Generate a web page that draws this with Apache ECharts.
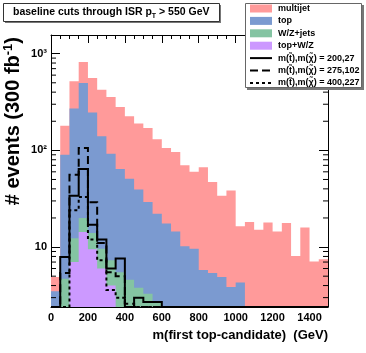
<!DOCTYPE html>
<html><head><meta charset="utf-8">
<script src="https://cdn.jsdelivr.net/npm/echarts@6/dist/echarts.min.js"></script>
<style>html,body{margin:0;padding:0;background:#fff}#c{width:366px;height:353px}</style>
</head><body><div id="c"></div>
<script>
// ---- data (events per 50 GeV bin) ----
const binEdges = [0,50,100,150,200,250,300,350,400,450,500,550,600,650,700,750,800,850,900,950,1000,1050,1100,1150,1200,1250,1300,1350,1400,1450,1500];
const multijet = [1.4,90,247,321,313,285,264,217,174,150,141,108,88.5,81.5,60,50.5,61,41.6,29,34.6,12.1,18.2,15.1,17.9,14.5,17.7,8.1,15.9,7.1,7.5];
const topBkg   = [3.5,85.3,258,477,233,130,84.7,58.5,46.4,35.7,25.9,19.4,16,13.5,9.7,9.1,5.4,5.0,4.5,3.4,3.9,0,0,0,0,0,0,0,0,0];
const wzJets   = [0,4.7,5.3,5.7,4.5,3.6,3.3,5.5,4.6,3.8,3.3,2.7,1.5,1.0,0.5,0.5,0.4,0.4,0.4,0.46,0.4,0,0,0,0,0,0,0,0,0];
const topWZ    = [0,0,7.0,14.3,9.5,6.0,4.0,0,0,0,0,0,0,0,0,0,0,0,0,0,0,0,0,0,0,0,0,0,0,0];
const sig200_27  = [0,7.9,34,64,17,12,6,7.6,0,3.0,2.7,2.7,0,0,0,0,0,0,0,0,0,0,0,0,0,0,0,0,0,0];
const sig275_102 = [0,5.4,56,106,29,11,5.5,5.0,2.6,0,0,0,0,0,0,0,0,0,0,0,0,0,0,0,0,0,0,0,0,0];
const sig400_227 = [0,0,24,33,12,7.3,3.6,3.0,0,0,0,0,0,0,0,0,0,0,0,0,0,0,0,0,0,0,0,0,0,0];
const xTicks = [0,200,400,600,800,1000,1200,1400];
const yMin = 2.4, yMax = 1560;

const FONT = 'Liberation Sans';
const colors = {multijet:'#ff9a9a', top:'#7b9ad0', wz:'#84c4a2', twz:'#cc99ff'};

// stacked layers (bottom -> top): topWZ, wzJets, topBkg, multijet
const layers = [topWZ, wzJets, topBkg, multijet];
function cumulative(upto){
  return binEdges.slice(0,-1).map((_,i)=>{let s=0;for(let k=0;k<=upto;k++)s+=layers[k][i];return s;});
}
const cumTWZ = cumulative(0), cumWZ = cumulative(1), cumTop = cumulative(2), cumAll = cumulative(3);
const clampY = v => Math.min(Math.max(v, yMin), yMax);

function stepPoints(api, vals){
  const pts = [api.coord([binEdges[0], yMin])];
  vals.forEach((v,i)=>{
    const y = clampY(v);
    pts.push(api.coord([binEdges[i], y]));
    pts.push(api.coord([binEdges[i+1], y]));
  });
  pts.push(api.coord([binEdges[binEdges.length-1], yMin]));
  return pts;
}
function histSeries(name, cum, color){
  return {
    type:'custom', name, coordinateSystem:'cartesian2d', silent:true, clip:true,
    data:[[0, yMin]],
    renderItem(params, api){
      return {type:'polygon', shape:{points:stepPoints(api, cum)}, style:{fill:color, stroke:null}};
    }
  };
}
function stepSeries(name, vals, dash){
  return {
    type:'custom', name, coordinateSystem:'cartesian2d', silent:true, clip:true, z:5,
    data:[[0, yMin]],
    renderItem(params, api){
      return {type:'polyline', shape:{points:stepPoints(api, vals)}, style:{stroke:'#000', lineWidth:2, fill:null, lineDash:dash}};
    }
  };
}
const minorTickSeries = {
  type:'custom', silent:true, clip:false, z:6, coordinateSystem:'cartesian2d',
  data:[[0, 10]],
  renderItem(params, api){
    const ch = [];
    for (let e=0;e<=3;e++) for (let k=2;k<=9;k++){
      const v = k*Math.pow(10,e);
      if (v<=yMin || v>=yMax) continue;
      const l = api.coord([0, v]), r = api.coord([1500, v]);
      ch.push({type:'line', shape:{x1:l[0], y1:l[1], x2:l[0]+5, y2:l[1]}, style:{stroke:'#000', lineWidth:1}});
      ch.push({type:'line', shape:{x1:r[0], y1:r[1], x2:r[0]-5, y2:r[1]}, style:{stroke:'#000', lineWidth:1}});
    }
    return {type:'group', children:ch};
  }
};

const axisCommonX = {
  type:'value', min:0, max:1500, interval:200,
  axisLine:{show:true, onZero:false, lineStyle:{color:'#000', width:1}},
  axisTick:{show:true, inside:true, length:8, lineStyle:{color:'#000'}},
  minorTick:{show:true, splitNumber:4, length:4, lineStyle:{color:'#000'}},
  splitLine:{show:false}, minorSplitLine:{show:false}
};
const axisCommonY = {
  type:'log', logBase:10, min:yMin, max:yMax,
  axisLine:{show:true, onZero:false, lineStyle:{color:'#000', width:1}},
  axisTick:{show:true, inside:true, length:9, lineStyle:{color:'#000'}},
  splitLine:{show:false}
};

const legendItems = [
  {label:'multijet', color:colors.multijet},
  {label:'top', color:colors.top},
  {label:'W/Z+jets', color:colors.wz},
  {label:'top+W/Z', color:colors.twz},
  {label:'m(t\u0303),m(\u03c7\u0303) = 200,27', dash:null},
  {label:'m(t\u0303),m(\u03c7\u0303) = 275,102', dash:[8,4]},
  {label:'m(t\u0303),m(\u03c7\u0303) = 400,227', dash:[3,3]}
];
const legendGraphics = [
  {type:'rect', shape:{x:247, y:5, width:117, height:85}, style:{fill:'#777'}, z:10},
  {type:'rect', shape:{x:245.5, y:3.5, width:116, height:84}, style:{fill:'#fff', stroke:'#666', lineWidth:1}, z:11}
];
legendItems.forEach((it, i)=>{
  const cy = 8.5 + i*12.4;
  if (it.color) {
    legendGraphics.push({type:'rect', shape:{x:250, y:cy-4, width:22, height:8}, style:{fill:it.color}, z:12});
  } else {
    legendGraphics.push({type:'line', shape:{x1:250, y1:cy, x2:272, y2:cy}, style:{stroke:'#000', lineWidth:2, lineDash:it.dash}, z:12});
  }
  legendGraphics.push({type:'text', x:278, y:cy, style:{text:it.label, fill:'#000', font:'bold 9px "Liberation Sans"', verticalAlign:'middle'}, z:12});
});

const option = {
  animation:false,
  backgroundColor:'#fff',
  grid:{left:51, right:38, top:35, bottom:46, containLabel:false},
  xAxis:[
    Object.assign({}, axisCommonX, {position:'bottom',
      axisLabel:{color:'#000', fontFamily:FONT, fontWeight:'bold', fontSize:11, margin:5, showMaxLabel:false,
        formatter:v=> xTicks.indexOf(v)>=0 ? String(v) : ''}}),
    Object.assign({}, axisCommonX, {position:'top', axisLabel:{show:false}})
  ],
  yAxis:[
    Object.assign({}, axisCommonY, {position:'left',
      axisLabel:{color:'#000', fontFamily:FONT, fontWeight:'bold', fontSize:11, margin:4, showMinLabel:false, showMaxLabel:false,
        formatter:v=>{const l=Math.log10(v), e=Math.round(l); if(Math.abs(l-e)>1e-6) return ''; return e===1?'10':(e===2?'10\u00b2':(e===3?'10\u00b3':'10'));}}}),
    Object.assign({}, axisCommonY, {position:'right', axisLabel:{show:false}})
  ],
  series:[
    histSeries('multijet', cumAll, colors.multijet),
    histSeries('top', cumTop, colors.top),
    histSeries('W/Z+jets', cumWZ, colors.wz),
    histSeries('top+W/Z', cumTWZ, colors.twz),
    stepSeries('m(t),m(chi) = 200,27', sig200_27, null),
    stepSeries('m(t),m(chi) = 275,102', sig275_102, [8,4]),
    stepSeries('m(t),m(chi) = 400,227', sig400_227, [3,3]),
    minorTickSeries
  ],
  graphic:[
    {type:'rect', shape:{x:5, y:5, width:216, height:18}, style:{fill:'#777'}, z:10},
    {type:'rect', shape:{x:3.5, y:3.5, width:216, height:18}, style:{fill:'#fff', stroke:'#333', lineWidth:1}, z:11},
    {type:'text', x:13, y:12.5, z:12, style:{text:'baseline cuts through ISR p{sub|T} > 550 GeV', fill:'#000',
      font:'bold 10.5px "Liberation Sans"', verticalAlign:'middle',
      rich:{sub:{fontSize:7, fontWeight:'bold', fontFamily:FONT, padding:[7,0,0,0]}}}},
    {type:'text', x:328, y:335, z:12, style:{text:'m(first top-candidate)  (GeV)', fill:'#000',
      font:'bold 13px "Liberation Sans"', align:'right', verticalAlign:'middle'}},
    {type:'text', x:13, y:37, rotation:Math.PI/2, z:12, style:{text:'# events (300 fb{sup|-1})', fill:'#000',
      font:'bold 20px "Liberation Sans"', align:'right', verticalAlign:'middle',
      rich:{sup:{fontSize:13, fontWeight:'bold', fontFamily:FONT, padding:[0,0,9,0]}}}}
  ].concat(legendGraphics)
};
const chart = echarts.init(document.getElementById('c'), null, {renderer:'canvas'});
chart.setOption(option);
</script></body></html>
